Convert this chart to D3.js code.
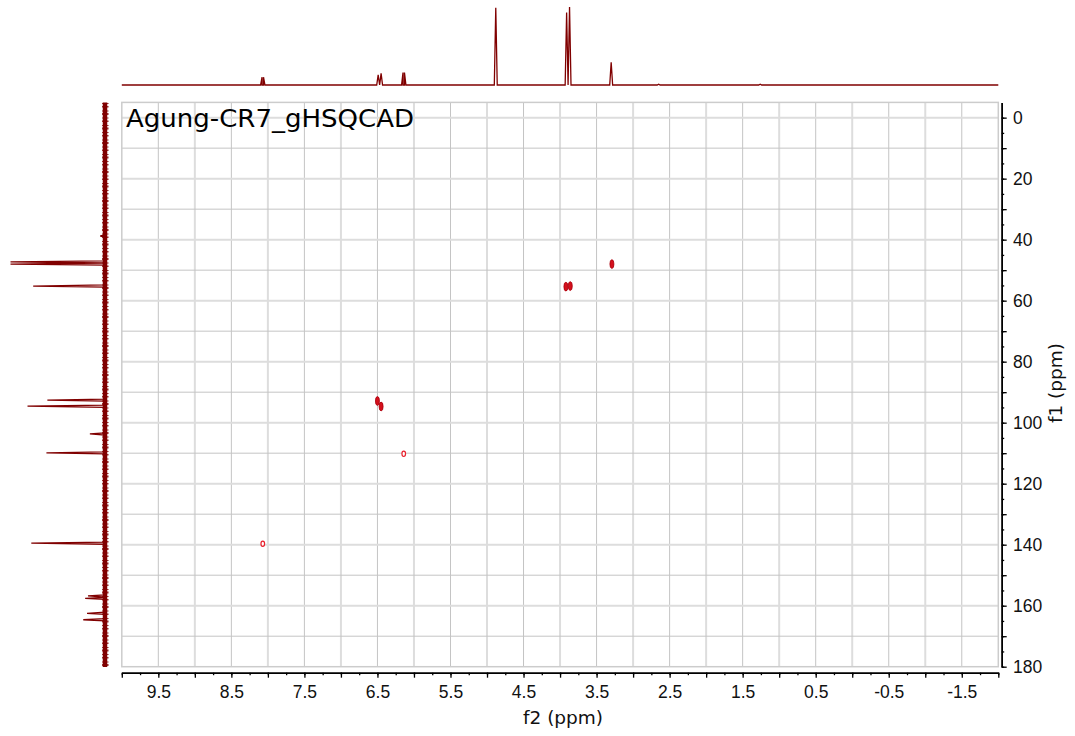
<!DOCTYPE html>
<html>
<head>
<meta charset="utf-8">
<script src="https://cdn.jsdelivr.net/npm/d3@7"></script>
<style>
body{margin:0;background:#fff;}
svg{display:block;font-family:"DejaVu Sans",Verdana,sans-serif;}
</style>
</head>
<body>
<div id="hsqc"></div>
<script>
// 1H projection on top: peak shifts (ppm) and relative heights
var hPpm = [8.08, 8.06, 6.49, 6.45, 6.15, 6.13, 4.88, 3.91, 3.87, 3.30, 2.65, 1.26];
var hInt = [10, 10, 13, 15, 16, 16, 99, 93, 100, 29, 1, 1];

// 13C projection on the left
var cPpm = [38.8, 47.3, 48.0, 55.2, 92.6, 94.6, 103.7, 109.9, 139.5, 156.8, 157.6, 162.5, 164.6];
var cInt = [5, 100, 100, 76, 61, 82, 16, 62, 78, 18, 21, 19, 23];

// HSQC cross peaks (f2 = 1H, f1 = 13C), strength 1 = filled contour, 0 = weak ring
var xpF2 = [3.29, 3.92, 3.86, 6.50, 6.45, 6.14, 8.07];
var xpF1 = [48.0, 55.4, 55.2, 92.9, 94.7, 110.2, 139.7];
var xpStrength = [1, 1, 1, 1, 1, 0, 0];

var f2Labels = [9.5, 8.5, 7.5, 6.5, 5.5, 4.5, 3.5, 2.5, 1.5, 0.5, -0.5, -1.5];
var f1Labels = [0, 20, 40, 60, 80, 100, 120, 140, 160, 180];

var title = "Agung-CR7_gHSQCAD";

function drawHSQC(element){

var width = 1075, height = 736;
var plot = {left: 121.8, right: 998.3, top: 102.4, bottom: 666.7};
var dark = "#800000";

var svg = d3.select(element).append("svg")
    .attr("width", width)
    .attr("height", height);

svg.append("rect").attr("width", width).attr("height", height).attr("fill", "#fff");

var x = d3.scaleLinear().domain([10, -2]).range([plot.left, plot.right]);
var y = d3.scaleLinear().domain([-5, 180]).range([plot.top, plot.bottom]);

// grid
var grid = svg.append("g");
grid.selectAll("line.v")
  .data(d3.range(9.5, -2, -0.5))
  .join("line")
    .attr("x1", d => x(d)).attr("x2", d => x(d))
    .attr("y1", plot.top).attr("y2", plot.bottom)
    .attr("stroke", d => Math.abs(d % 1) === 0.5 ? "#c4c4c4" : "#dddddd")
    .attr("stroke-width", d => Math.abs(d % 1) === 0.5 ? 1 : 2);
grid.selectAll("line.h")
  .data(d3.range(0, 180, 10))
  .join("line")
    .attr("x1", plot.left).attr("x2", plot.right)
    .attr("y1", d => y(d)).attr("y2", d => y(d))
    .attr("stroke", d => d % 20 === 0 ? "#dddddd" : "#c4c4c4")
    .attr("stroke-width", d => d % 20 === 0 ? 2 : 1);
svg.append("rect")
    .attr("x", plot.left).attr("y", plot.top)
    .attr("width", plot.right - plot.left).attr("height", plot.bottom - plot.top)
    .attr("fill", "none").attr("stroke", "#cccccc").attr("stroke-width", 1.5);

// bottom axis (f2)
var axisY = 672.7;
var fmt = d => d.toFixed(1);
var xMinor = d3.axisBottom(x).tickValues(d3.range(10, -2.01, -0.25)).tickSize(2.5).tickSizeOuter(0).tickFormat("");
var xMajor = d3.axisBottom(x).tickValues(d3.range(10, -2.01, -0.5)).tickSize(5).tickSizeOuter(0).tickPadding(8)
    .tickFormat(d => f2Labels.some(v => Math.abs(v - d) < 1e-6) ? fmt(d) : "");
svg.append("g").attr("transform", `translate(0,${axisY})`).call(xMinor);
svg.append("g").attr("transform", `translate(0,${axisY})`).call(xMajor)
  .selectAll("text").style("font-size", "17.5px").attr("fill", "#111");

// right axis (f1)
var axisX = 1001.7;
var yMinor = d3.axisRight(y).tickValues(d3.range(0, 181, 5)).tickSize(2.5).tickSizeOuter(0).tickFormat("");
var yMajor = d3.axisRight(y).tickValues(d3.range(0, 181, 10)).tickSize(5).tickSizeOuter(0).tickPadding(6.4)
    .tickFormat(d => f1Labels.indexOf(d) >= 0 ? d : "");
svg.append("g").attr("transform", `translate(${axisX},0)`).call(yMinor);
svg.append("g").attr("transform", `translate(${axisX},0)`).call(yMajor)
  .selectAll("text").style("font-size", "17.5px").attr("fill", "#111");

svg.selectAll(".domain").attr("stroke", "#000").attr("stroke-width", 1.5);
svg.selectAll(".tick line").attr("stroke", "#000").attr("stroke-width", 1.3);

svg.append("text")
    .attr("x", (plot.left + plot.right) / 2 + 3).attr("y", 724)
    .attr("text-anchor", "middle").style("font-size", "18.5px").attr("fill", "#111")
    .text("f2 (ppm)");
svg.append("text")
    .attr("transform", "translate(1062,383) rotate(-90)")
    .attr("text-anchor", "middle").style("font-size", "18.5px").attr("fill", "#111")
    .text("f1 (ppm)");

// top 1H trace
var hTop = d3.scaleLinear().domain([0, 100]).range([85, 7]);
var hw = 0.02;
var hPts = [[10, 0]];
hPpm.forEach((p, i) => { hPts.push([p + hw, 0], [p, hInt[i]], [p - hw, 0]); });
hPts.push([-2, 0]);
hPts.sort((a, b) => b[0] - a[0]);
svg.append("path")
    .attr("d", d3.line().x(d => x(d[0])).y(d => hTop(d[1]))(hPts))
    .attr("fill", "none").attr("stroke", dark).attr("stroke-width", 1.3)
    .attr("stroke-linejoin", "miter");

// left 13C trace: noisy baseline band plus peaks
var cLeft = d3.scaleLinear().domain([0, 100]).range([105, 10.5]);
svg.append("line")
    .attr("x1", cLeft(0)).attr("x2", cLeft(0))
    .attr("y1", 102.5).attr("y2", 667)
    .attr("stroke", dark).attr("stroke-width", 4.5);
svg.append("line")
    .attr("x1", cLeft(0) + 0.3).attr("x2", cLeft(0) + 0.3)
    .attr("y1", 103).attr("y2", 666)
    .attr("stroke", dark).attr("stroke-width", 6.5).attr("stroke-opacity", 0.8)
    .attr("stroke-dasharray", "1 2 1.5 3 1 1.5 2 2.5");
var cw = 0.35;
var cPts = [];
cPpm.forEach((p, i) => { cPts.push([p - cw, 0], [p, cInt[i]], [p + cw, 0]); });
cPts.sort((a, b) => a[0] - b[0]);
svg.append("path")
    .attr("d", d3.line().x(d => cLeft(d[1])).y(d => y(d[0]))(cPts))
    .attr("fill", "none").attr("stroke", dark).attr("stroke-width", 1.3);

// cross peaks
var xp = xpF2.map((d, i) => ({f2: d, f1: xpF1[i], s: xpStrength[i]}));
svg.append("g").selectAll("ellipse")
  .data(xp)
  .join("ellipse")
    .attr("cx", d => x(d.f2))
    .attr("cy", d => y(d.f1))
    .attr("rx", d => d.s ? 2 : 1.8)
    .attr("ry", d => d.s ? 4.4 : 2.7)
    .attr("fill", d => d.s ? "#d4101c" : "#fff")
    .attr("stroke", d => d.s ? "#a8000c" : "#e8202c")
    .attr("stroke-width", d => d.s ? 0.8 : 1.2);

// title
svg.append("text")
    .attr("x", 126).attr("y", 127)
    .attr("textLength", 288).attr("lengthAdjust", "spacingAndGlyphs")
    .style("font-size", "24px").attr("fill", "#000")
    .text(title);
}

drawHSQC("#hsqc");
</script>
</body>
</html>
